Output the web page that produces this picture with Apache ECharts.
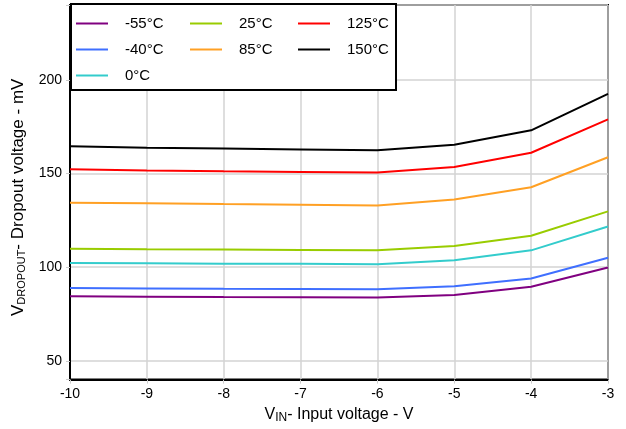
<!DOCTYPE html>
<html><head><meta charset="utf-8">
<script src="https://cdn.jsdelivr.net/npm/echarts@6/dist/echarts.min.js"></script>
<style>html,body{margin:0;padding:0;background:#fff}#c{width:626px;height:429px}</style>
</head><body><div id="c"></div>
<script>
const xValues = [-10, -9, -8, -7, -6, -5, -4, -3];
const seriesNames = ['-55°C', '-40°C', '0°C', '25°C', '85°C', '125°C', '150°C'];
const vM55 = [84.5, 84.3, 84.1, 84.0, 83.8, 85.2, 89.6, 99.9];
const vM40 = [88.9, 88.7, 88.5, 88.4, 88.2, 89.8, 94.0, 105.1];
const v0 = [102.3, 102.1, 101.9, 101.8, 101.6, 103.7, 109.0, 121.7];
const v25 = [109.9, 109.6, 109.4, 109.2, 109.0, 111.3, 116.8, 129.8];
const v85 = [134.4, 134.1, 133.7, 133.4, 133.0, 136.1, 142.7, 158.7];
const v125 = [152.3, 151.7, 151.2, 150.9, 150.6, 153.5, 161.1, 178.9];
const v150 = [164.6, 163.8, 163.4, 162.9, 162.4, 165.4, 173.1, 192.5];
const allValues = [vM55, vM40, v0, v25, v85, v125, v150];
const colors = ['#800080', '#3F6FFF', '#33CCCC', '#99CC00', '#FFA024', '#FF0000', '#000000'];

const font = 'Liberation Sans, Arial, sans-serif';
const chart = echarts.init(document.getElementById('c'));
const legendBase = {
  orient: 'vertical', itemWidth: 32, itemHeight: 14, itemGap: 11,
  icon: 'path://M0,0 L32,0 L32,2 L0,2 Z',
  textStyle: { fontFamily: font, fontSize: 15, color: '#000', padding: [0, 0, 0, 12] },
  selectedMode: false, z: 10
};
chart.setOption({
  animation: false,
  color: colors,
  grid: { left: 70, right: 18, top: 5, bottom: 48, show: true, borderColor: '#000', borderWidth: 2 },
  graphic: [{
    type: 'rect', z: 5, shape: { x: 71, y: 4, width: 325, height: 86 },
    style: { fill: '#fff', stroke: '#000', lineWidth: 2 }
  }],
  legend: [
    Object.assign({}, legendBase, { left: 71, top: 11, data: ['-55°C', '-40°C', '0°C'] }),
    Object.assign({}, legendBase, { left: 185, top: 11, data: ['25°C', '85°C'] }),
    Object.assign({}, legendBase, { left: 293, top: 11, data: ['125°C', '150°C'] })
  ],
  xAxis: {
    type: 'value', min: -10, max: -3, interval: 1,
    name: '{a|V}{s|IN}{a|- Input voltage - V}', nameLocation: 'middle', nameGap: 21,
    nameTextStyle: { rich: {
      a: { fontFamily: font, fontSize: 16, color: '#000' },
      s: { fontFamily: font, fontSize: 12, color: '#000', verticalAlign: 'bottom', padding: [7, 0, 0, 0] }
    } },
    axisLine: { lineStyle: { color: '#000', width: 2 } },
    axisTick: { show: true, length: 4, lineStyle: { color: '#ccc' } },
    axisLabel: { fontFamily: font, fontSize: 14, color: '#000', margin: 8 },
    splitLine: { lineStyle: { color: '#d3d3d3', width: 1.5 } }
  },
  yAxis: {
    type: 'value', min: 40, max: 240, splitNumber: 4,
    name: '{a|V}{s|DROPOUT}{a|- Dropout voltage - mV}', nameLocation: 'middle', nameGap: 38,
    nameTextStyle: { padding: [0, 10, 0, 0], rich: {
      a: { fontFamily: font, fontSize: 17, color: '#000' },
      s: { fontFamily: font, fontSize: 11, color: '#000', verticalAlign: 'bottom', padding: [7, 0, 0, 0] }
    } },
    axisLine: { show: true, lineStyle: { color: '#000', width: 2 } },
    axisTick: { show: true, length: 4, lineStyle: { color: '#ccc' } },
    axisLabel: { fontFamily: font, fontSize: 14, color: '#000', margin: 8,
      formatter: v => (v % 50 === 0 && v >= 50 && v <= 200) ? String(v) : '' },
    splitLine: { lineStyle: { color: '#d3d3d3', width: 1.5 } }
  },
  series: seriesNames.map((n, i) => ({
    name: n, type: 'line', showSymbol: false, symbol: 'none',
    lineStyle: { width: 2, color: colors[i] },
    itemStyle: { color: colors[i] },
    data: xValues.map((x, j) => [x, allValues[i][j]])
  }))
});
</script></body></html>
